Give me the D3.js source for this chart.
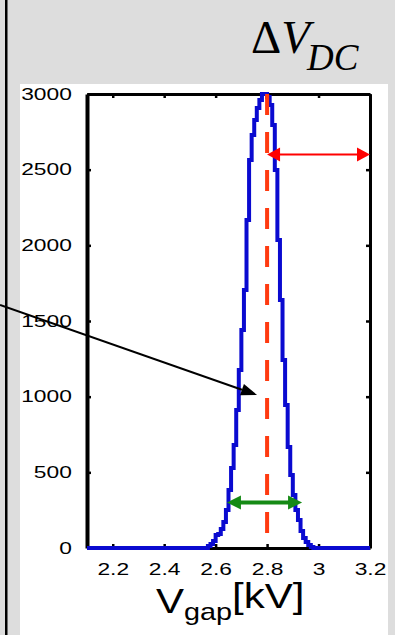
<!DOCTYPE html>
<html>
<head>
<meta charset="utf-8">
<script src="https://cdn.jsdelivr.net/npm/d3@7"></script>
<style>
  body { margin: 0; background: #dddddd; }
  svg { display: block; }
</style>
</head>
<body>
<svg></svg>
<script>
// histogram of gap voltage
let binEdges = [2.57, 2.58, 2.59, 2.60, 2.61, 2.62, 2.63, 2.64, 2.65, 2.66,
                2.67, 2.68, 2.69, 2.70, 2.71, 2.72, 2.73, 2.74, 2.75, 2.76,
                2.77, 2.78, 2.79, 2.80, 2.81, 2.82, 2.83, 2.84, 2.85, 2.86,
                2.87, 2.88, 2.89, 2.90, 2.91, 2.92, 2.93, 2.94, 2.95, 2.96,
                2.97, 2.98];
let counts   = [13, 26, 46, 86, 93, 126, 172, 251, 383, 529,
                681, 912, 1176, 1441, 1705, 2167, 2564, 2729, 2828, 2908,
                2960, 3000, 3000, 2980, 2927, 2795, 2498, 2035, 1639, 1242,
                945, 667, 482, 350, 251, 185, 112, 66, 40, 20,
                7];

let xTicks = [2.2, 2.4, 2.6, 2.8, 3, 3.2];
let yTicks = [0, 500, 1000, 1500, 2000, 2500, 3000];

let meanV      = 2.8;             // red dashed line
let dcArrow    = [2.8, 3.2, 2600]; // x from, x to, count
let widthArrow = [2.644, 2.936, 300];
let pointer    = [[1.762, 1606], [2.761, 1011]];

let width  = 395,
    height = 635;

let xScale = d3.scaleLinear()
               .domain([2.1, 3.2])
               .range([87, 370]),
    yScale = d3.scaleLinear()
               .domain([0, 3000])
               .range([548, 94]);

let svg = d3.select('svg')
            .attr('width', width)
            .attr('height', height)
            .style('font-family', 'Liberation Sans, Arial, sans-serif');

//Background
svg.append('rect')
    .attr('width', width).attr('height', height)
    .attr('fill', '#dddddd');
svg.append('rect')
    .attr('x', 5).attr('y', 0)
    .attr('width', 2.5).attr('height', height)
    .attr('fill', '#000');
svg.append('rect')
    .attr('x', 20).attr('y', 84)
    .attr('width', 368).attr('height', height - 84)
    .attr('fill', '#fff');

//Title
let title = svg.append('text')
    .attr('x', 251)
    .attr('y', 53)
    .attr('font-family', 'Liberation Serif, Times New Roman, serif')
    .attr('font-size', 47);
title.append('tspan').text('\u0394');
title.append('tspan').attr('font-style', 'italic').text('V');
title.append('tspan')
    .attr('font-style', 'italic')
    .attr('font-size', 37)
    .attr('dy', 17)
    .attr('dx', -3)
    .text('DC');

//Axis
let xAxis = d3.axisBottom(xScale)
              .tickValues(xTicks)
              .tickFormat(d3.format('~g'))
              .tickSize(-4)
              .tickSizeOuter(0)
              .tickPadding(15);
let yAxis = d3.axisLeft(yScale)
              .tickValues(yTicks)
              .tickFormat(d3.format('d'))
              .tickSize(-4)
              .tickSizeOuter(0)
              .tickPadding(11);

let gx = svg.append('g')
    .attr('transform', `translate(0, ${yScale(0)})`)
    .call(xAxis);
let gy = svg.append('g')
    .attr('transform', `translate(${xScale(2.1)}, 0)`)
    .call(yAxis);
svg.append('g')
    .attr('transform', `translate(0, ${yScale(3000)})`)
    .call(d3.axisTop(xScale).tickValues(xTicks).tickFormat('').tickSize(-4).tickSizeOuter(0));
svg.append('g')
    .attr('transform', `translate(${xScale(3.2)}, 0)`)
    .call(d3.axisRight(yScale).tickValues(yTicks).tickFormat('').tickSize(-4).tickSizeOuter(0));

svg.selectAll('.domain').attr('stroke', '#000').attr('stroke-width', 3);
svg.selectAll('.tick line').attr('stroke', '#000').attr('stroke-width', 2.5);
gy.select('.domain').attr('stroke-width', 4);
svg.selectAll('.tick text')
    .attr('font-size', 16.5)
    .attr('fill', '#000')
    .attr('transform', 'scale(1.38,1)');

//Histogram
let pts = [[2.1, 0]];
binEdges.forEach((e, i) => pts.push([e, i < counts.length ? counts[i] : 0]));
pts.push([3.2, 0]);

let line = d3.line()
    .x(d => xScale(d[0]))
    .y(d => yScale(d[1]))
    .curve(d3.curveStepAfter);

svg.append('path')
    .datum(pts)
    .attr('d', line)
    .attr('fill', 'none')
    .attr('stroke', '#0a0ad0')
    .attr('stroke-width', 4)
    .attr('stroke-linejoin', 'miter');

//Mean line
svg.append('line')
    .attr('x1', xScale(meanV)).attr('x2', xScale(meanV))
    .attr('y1', yScale(3000)).attr('y2', yScale(0))
    .attr('stroke', '#ff3a10')
    .attr('stroke-width', 4)
    .attr('stroke-dasharray', '21,17');

//Arrows
function doubleArrow(a, color, sw, len, half) {
    let x1 = xScale(a[0]), x2 = xScale(a[1]), y = yScale(a[2]);
    svg.append('line')
        .attr('x1', x1 + len - 2).attr('x2', x2 - len + 2)
        .attr('y1', y).attr('y2', y)
        .attr('stroke', color).attr('stroke-width', sw);
    svg.append('path')
        .attr('d', `M${x1},${y}L${x1 + len},${y - half}L${x1 + len},${y + half}Z`)
        .attr('fill', color);
    svg.append('path')
        .attr('d', `M${x2},${y}L${x2 - len},${y - half}L${x2 - len},${y + half}Z`)
        .attr('fill', color);
}
doubleArrow(dcArrow, '#ff0000', 2, 13, 7);
doubleArrow(widthArrow, '#158a15', 4, 14, 7);

// pointer to the mean
let p0 = pointer[0].map((v, i) => i ? yScale(v) : xScale(v)),
    p1 = pointer[1].map((v, i) => i ? yScale(v) : xScale(v));
let ang = Math.atan2(p1[1] - p0[1], p1[0] - p0[0]);
let hl = 16, hw = 6;
let bx = p1[0] - hl * Math.cos(ang), by = p1[1] - hl * Math.sin(ang);
svg.append('line')
    .attr('x1', p0[0]).attr('y1', p0[1])
    .attr('x2', bx).attr('y2', by)
    .attr('stroke', '#000').attr('stroke-width', 2);
svg.append('path')
    .attr('d', `M${p1[0]},${p1[1]}` +
               `L${bx - hw * Math.sin(ang)},${by + hw * Math.cos(ang)}` +
               `L${bx + hw * Math.sin(ang)},${by - hw * Math.cos(ang)}Z`)
    .attr('fill', '#000');

//Label
let xl = svg.append('text')
    .attr('x', 156 / 1.2)
    .attr('y', 613)
    .attr('font-size', 35)
    .attr('transform', 'scale(1.2,1)');
xl.append('tspan').text('V');
xl.append('tspan').attr('font-size', 24).attr('dy', 7).text('gap');
xl.append('tspan').attr('dy', -12).text('[kV]');
</script>
</body>
</html>
